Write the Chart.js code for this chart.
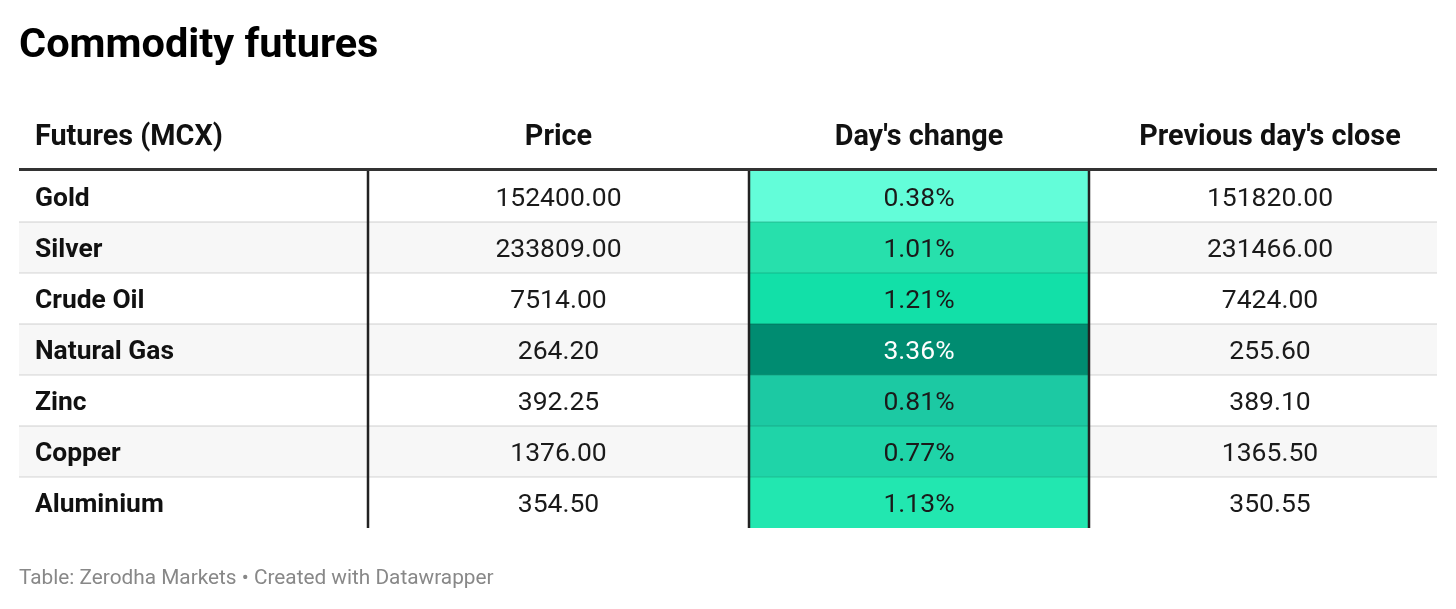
<!DOCTYPE html>
<html>
<head>
<meta charset="utf-8">
<script src="https://cdn.jsdelivr.net/npm/chart.js@4.4.1/dist/chart.umd.min.js"></script>
<style>
  body { margin: 0; background: #fff; font-family: Roboto, "Noto Sans", sans-serif; }
  #wrap { position: relative; width: 1456px; height: 609px; overflow: hidden; }
  #title { position: absolute; left: 19px; top: 22px; font-size: 41.5px; line-height: 42px; font-weight: 700; color: #000; }
  #note { position: absolute; left: 19px; top: 566px; font-size: 20.8px; line-height: 22px; color: #888; }
  canvas { position: absolute; left: 0; top: 0; }
</style>
</head>
<body>
<div id="wrap">
  <canvas id="chartFutures" width="1456" height="609"></canvas>
  <div id="title">Commodity futures</div>
  <div id="note">Table: Zerodha Markets • Created with Datawrapper</div>
</div>
<script>
// dados da tabela
var commodities = ['Gold', 'Silver', 'Crude Oil', 'Natural Gas', 'Zinc', 'Copper', 'Aluminium'];
var prices = [152400.00, 233809.00, 7514.00, 264.20, 392.25, 1376.00, 354.50];
var dayChange = [0.38, 1.01, 1.21, 3.36, 0.81, 0.77, 1.13];
var prevClose = [151820.00, 231466.00, 7424.00, 255.60, 389.10, 1365.50, 350.55];
var changeColors = ['#63fdd9', '#27e0ac', '#12e0a8', '#008c71', '#1cc9a3', '#1fd4a8', '#22e7b0'];
var headers = ['Futures (MCX)', 'Price', "Day's change", "Previous day's close"];

// limites das colunas (unidades do eixo x)
var colEdges = [0, 349, 730, 1070, 1418];
// deslocamento do texto em cada coluna
var colShift = [0, 0, 0, 7];

// plugin que desenha cabeçalho, linhas e textos da tabela
var tablePlugin = {
  id: 'tablePlugin',
  afterDatasetsDraw: function(chart) {
    var ctx = chart.ctx;
    var x = chart.scales.x;
    var y = chart.scales.y;
    var area = chart.chartArea;
    var band = (area.bottom - area.top) / commodities.length;

    function colCenter(k) {
      return (x.getPixelForValue(colEdges[k]) + x.getPixelForValue(colEdges[k + 1])) / 2 + colShift[k];
    }

    ctx.save();

    // separadores das linhas
    ctx.strokeStyle = 'rgba(0,0,0,0.11)';
    ctx.lineWidth = 1.5;
    for (var i = 1; i < commodities.length; i++) {
      var yy = y.getPixelForValue(i) - band / 2;
      ctx.beginPath();
      ctx.moveTo(area.left, yy);
      ctx.lineTo(area.right, yy);
      ctx.stroke();
    }

    // linhas verticais
    ctx.strokeStyle = '#222';
    ctx.lineWidth = 2.5;
    [1, 2, 3].forEach(function(k) {
      var xx = x.getPixelForValue(colEdges[k]);
      ctx.beginPath();
      ctx.moveTo(xx, area.top - 1);
      ctx.lineTo(xx, area.bottom);
      ctx.stroke();
    });

    // linha do cabeçalho
    ctx.strokeStyle = '#333';
    ctx.lineWidth = 3;
    ctx.beginPath();
    ctx.moveTo(area.left, area.top - 1.5);
    ctx.lineTo(area.right, area.top - 1.5);
    ctx.stroke();

    // cabeçalho
    ctx.fillStyle = '#111';
    ctx.textBaseline = 'middle';
    ctx.font = 'bold 28.8px Roboto';
    var headY = area.top - 33;
    ctx.textAlign = 'left';
    ctx.fillText(headers[0], x.getPixelForValue(colEdges[0]) + 16, headY);
    ctx.textAlign = 'center';
    for (var h = 1; h < headers.length; h++) {
      ctx.fillText(headers[h], colCenter(h), headY);
    }

    // células
    commodities.forEach(function(name, i) {
      var cy = y.getPixelForValue(i) + 3;
      ctx.font = 'bold 26.4px Roboto';
      ctx.textAlign = 'left';
      ctx.fillStyle = '#111';
      ctx.fillText(name, x.getPixelForValue(colEdges[0]) + 16, cy);

      ctx.font = '26.5px Roboto';
      ctx.textAlign = 'center';
      var vals = [prices[i].toFixed(2), dayChange[i].toFixed(2) + '%', prevClose[i].toFixed(2)];
      vals.forEach(function(v, k) {
        ctx.fillStyle = (k === 1 && dayChange[i] > 3) ? '#fff' : '#1a1a1a';
        ctx.fillText(v, colCenter(k + 1), cy);
      });
    });

    ctx.restore();
  }
};

var ctx = document.getElementById('chartFutures').getContext('2d');
var chart = new Chart(ctx, {
  type: 'bar',
  data: {
    labels: commodities,
    datasets: [{
      label: "Day's change",
      data: dayChange.map(function() { return [colEdges[2], colEdges[3]]; }),
      backgroundColor: changeColors,
      barPercentage: 1,
      categoryPercentage: 1,
      grouped: false,
      order: 1
    }, {
      label: 'rows',
      data: commodities.map(function() { return [colEdges[0], colEdges[4]]; }),
      backgroundColor: commodities.map(function(c, i) { return i % 2 ? '#f7f7f7' : '#ffffff'; }),
      barPercentage: 1,
      categoryPercentage: 1,
      grouped: false,
      order: 2
    }]
  },
  options: {
    indexAxis: 'y',
    responsive: false,
    animation: false,
    devicePixelRatio: 1,
    layout: { padding: { left: 19, right: 19, top: 171, bottom: 81 } },
    plugins: { legend: { display: false }, tooltip: { enabled: false } },
    scales: {
      x: { type: 'linear', min: colEdges[0], max: colEdges[4], display: false },
      y: { type: 'category', offset: true, display: false }
    }
  },
  plugins: [tablePlugin]
});
</script>
</body>
</html>
